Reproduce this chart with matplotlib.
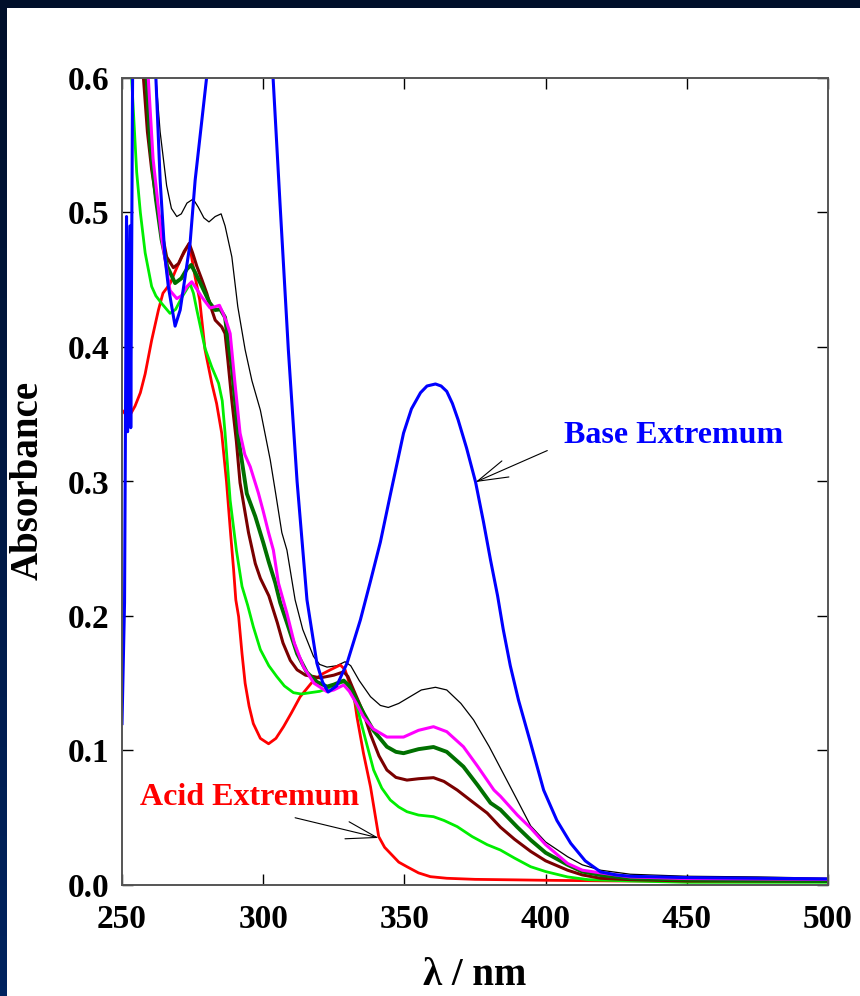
import numpy as np
import matplotlib
matplotlib.use('Agg')
import matplotlib.pyplot as plt
from matplotlib.patches import Rectangle

plt.rcParams['font.family'] = ['Liberation Serif', 'DejaVu Serif']
plt.rcParams['font.weight'] = 'bold'
plt.rcParams['lines.solid_joinstyle'] = 'round'

# --- spectra (wavelength nm, absorbance) ---
black_wl = [250, 256, 260, 262, 263.5, 265.8, 267.5, 269.4, 271, 273, 275.2, 277, 279, 280.8, 283, 285.1,
            286.5, 288.9, 291, 293.6, 296, 299, 302.5, 304.5, 306.6, 308.4, 311.3, 314, 317.8, 320, 322.6,
            326, 329, 331, 334, 338, 341.5, 344.3, 348, 352, 356, 361, 365, 370, 374.5, 380, 385, 390,
            394.7, 400, 407.8, 413, 419.5, 430, 450, 475, 500]
black_abs = [1.5, 0.9, 0.68, 0.6, 0.56, 0.52, 0.503, 0.497, 0.499, 0.507, 0.51, 0.504, 0.496, 0.493, 0.497, 0.499,
             0.49, 0.467, 0.43, 0.398, 0.375, 0.353, 0.316, 0.29, 0.262, 0.249, 0.212, 0.19, 0.17, 0.164, 0.162,
             0.163, 0.166, 0.163, 0.152, 0.14, 0.1335, 0.132, 0.135, 0.14, 0.145, 0.147, 0.145, 0.135, 0.1227, 0.103, 0.083, 0.063,
             0.044, 0.032, 0.021, 0.015, 0.011, 0.008, 0.0065, 0.006, 0.005]

red_wl = [250, 251.7, 253, 254.6, 256.5, 258.2, 260.5, 262.9, 264.5, 267, 269, 271.2, 273.8, 275.9, 277.5,
          279.4, 281.8, 283.5, 285.3, 287, 288.5, 289.5, 290.3, 291.3, 292.5, 293.6, 295, 296.5, 299, 301.9,
          304.5, 307.2, 310, 313.1, 317.8, 321, 323.8, 327.3, 329, 330.5, 332, 333.2, 335.5, 338, 340.9,
          343, 345, 348, 350.9, 355, 359.2, 365, 375, 390, 400, 425, 450, 500]
red_abs = [0.353, 0.349, 0.35, 0.356, 0.366, 0.38, 0.405, 0.4275, 0.44, 0.447, 0.457, 0.467, 0.477, 0.452, 0.435,
           0.398, 0.373, 0.358, 0.336, 0.30, 0.26, 0.235, 0.212, 0.1995, 0.172, 0.15, 0.133, 0.12, 0.109, 0.105,
           0.109, 0.1177, 0.128, 0.14, 0.152, 0.157, 0.16, 0.1636, 0.16, 0.15, 0.1425, 0.125, 0.098, 0.073, 0.036,
           0.028, 0.0236, 0.017, 0.0136, 0.009, 0.0062, 0.005, 0.0042, 0.0038, 0.0035, 0.003, 0.003, 0.003]

lime_wl = [250, 253.4, 255.2, 256.5, 258.2, 260.5, 262, 264, 267, 269, 271.2, 274.1, 275.3, 276.5, 279.4,
           281.8, 284.2, 285.5, 286.5, 288.3, 290.5, 292.5, 294.5, 296.5, 299, 302, 304.8, 307.5, 310.7, 313.5,
           316.7, 320, 322.6, 325.5, 328.5, 330.5, 333.2, 336, 339.1, 342, 345, 348, 350.9, 355, 360.3, 364,
           368.7, 374, 379.3, 384, 389, 394.7, 400, 407.8, 415, 430, 450, 500]
lime_abs = [1.0, 0.6, 0.53, 0.5, 0.47, 0.445, 0.438, 0.4325, 0.425, 0.428, 0.437, 0.447, 0.44, 0.4275, 0.399,
            0.385, 0.373, 0.36, 0.336, 0.286, 0.249, 0.222, 0.208, 0.192, 0.175, 0.163, 0.155, 0.148, 0.143, 0.142,
            0.143, 0.144, 0.146, 0.149, 0.151, 0.147, 0.1326, 0.11, 0.0855, 0.072, 0.0632, 0.058, 0.0545, 0.052, 0.0508, 0.048,
            0.0434, 0.036, 0.030, 0.026, 0.020, 0.0136, 0.010, 0.006, 0.004, 0.003, 0.002, 0.002]

maroon_wl = [250, 255, 257.6, 259, 260.5, 262.8, 265.8, 268.2, 270, 272, 273.8, 275, 276.5, 278.3, 280, 281.8,
             283, 285.3, 286.5, 287.5, 288.9, 290.5, 291.8, 293.5, 294.8, 297.2, 299, 302, 305, 307, 309.6, 312,
             315, 317.8, 320, 322.6, 325, 328.5, 330, 332, 335.5, 338, 341, 343.8, 347, 350.9, 355, 360.3, 364,
             368.7, 374, 379.3, 384, 389, 394.7, 400, 407.8, 413, 419.5, 430, 450, 500]
maroon_abs = [1.2, 0.75, 0.6, 0.56, 0.532, 0.5, 0.467, 0.459, 0.462, 0.471, 0.477, 0.47, 0.46, 0.45, 0.44, 0.4275,
              0.42, 0.415, 0.41, 0.39, 0.36, 0.33, 0.299, 0.278, 0.262, 0.239, 0.228, 0.215, 0.195, 0.18, 0.167, 0.16,
              0.156, 0.155, 0.154, 0.155, 0.156, 0.1585, 0.155, 0.145, 0.128, 0.112, 0.096, 0.0855, 0.08, 0.078, 0.079, 0.0798, 0.077,
              0.0706, 0.062, 0.0535, 0.043, 0.034, 0.025, 0.018, 0.011, 0.0075, 0.005, 0.004, 0.003, 0.003]

dkgreen_wl = [250, 255, 258.7, 260, 262, 264, 266, 268.8, 271, 273, 274.5, 276, 278.3, 281, 283, 284.8, 286.5,
              287.5, 288.9, 291.3, 294.2, 297.2, 300.1, 302, 304.3, 306, 308.4, 312, 315.5, 319, 322.6, 325,
              328.5, 330.5, 333, 335.5, 339, 343.8, 347, 349.7, 355, 360.3, 365, 370.9, 376, 380.5, 384, 390,
              394.7, 400, 407.8, 413, 419.5, 430, 450, 500]
dkgreen_abs = [1.2, 0.8, 0.6, 0.55, 0.51, 0.48, 0.46, 0.4475, 0.451, 0.458, 0.461, 0.455, 0.445, 0.433, 0.4275, 0.428, 0.422,
               0.405, 0.385, 0.331, 0.291, 0.274, 0.254, 0.24, 0.2245, 0.21, 0.195, 0.172, 0.158, 0.151, 0.1475, 0.149,
               0.152, 0.148, 0.138, 0.128, 0.115, 0.1028, 0.099, 0.098, 0.101, 0.1026, 0.099, 0.088, 0.074, 0.061, 0.056, 0.043,
               0.0335, 0.024, 0.015, 0.010, 0.0074, 0.005, 0.004, 0.003]

magenta_wl = [250, 255, 259.3, 261, 264, 267, 269.4, 271, 273, 274.7, 276.5, 278.3, 281.2, 283, 284.5, 286,
              287.1, 288.3, 290, 291.8, 293.5, 295.4, 298.3, 300, 301.9, 303.6, 305.4, 308.4, 311, 314.3, 318,
              322.6, 325, 328.5, 330.5, 333, 335.5, 339, 343.8, 349.7, 355, 360.3, 365, 370.9, 376, 381.7, 384,
              390, 394.7, 400, 407.8, 413, 419.5, 430, 450, 500]
magenta_abs = [1.3, 0.85, 0.6, 0.54, 0.482, 0.442, 0.436, 0.438, 0.445, 0.4485, 0.443, 0.437, 0.429, 0.43, 0.431, 0.424,
               0.418, 0.41, 0.373, 0.336, 0.32, 0.311, 0.2914, 0.278, 0.262, 0.249, 0.2245, 0.202, 0.18, 0.162, 0.15,
               0.1437, 0.145, 0.1487, 0.144, 0.135, 0.125, 0.116, 0.110, 0.110, 0.115, 0.1177, 0.114, 0.1028, 0.088, 0.0706, 0.066,
               0.052, 0.0424, 0.030, 0.016, 0.011, 0.009, 0.006, 0.0048, 0.0042]

blue_wl = [250, 250.9, 251.6, 252.0, 252.8, 253.1, 253.8, 256, 259, 262, 263.5, 265.2, 266.4, 268.8, 270.6,
           274.1, 275.9, 278.3, 280, 285, 292, 298, 303.5, 306, 308.9, 312, 315.5, 319, 321, 323, 326, 329.7,
           334.4, 338, 341.5, 345, 349.7, 352.5, 355.7, 358, 361, 363, 365, 367, 369, 372, 375.2, 378, 380.5,
           383, 385, 387.5, 390.4, 394.7, 399.3, 404, 408.9, 414, 419.5, 425, 430, 440, 450, 475, 500]
blue_abs = [0.12, 0.21, 0.497, 0.337, 0.49, 0.34, 0.62, 0.9, 0.9, 0.6, 0.524, 0.467, 0.445, 0.4155, 0.4275,
            0.477, 0.524, 0.569, 0.601, 0.72, 0.80, 0.72, 0.6, 0.505, 0.398, 0.30, 0.212, 0.165, 0.151, 0.1435, 0.148, 0.165,
            0.197, 0.226, 0.255, 0.29, 0.336, 0.354, 0.366, 0.371, 0.3725, 0.371, 0.367, 0.358, 0.346, 0.325, 0.2996, 0.27, 0.2416,
            0.215, 0.19, 0.163, 0.1375, 0.1055, 0.0706, 0.048, 0.031, 0.018, 0.0097, 0.0075, 0.0065, 0.006, 0.0055, 0.005, 0.0045]

x_ticks = [250, 300, 350, 400, 450, 500]
y_ticks = [0.0, 0.1, 0.2, 0.3, 0.4, 0.5, 0.6]

fig = plt.figure(figsize=(8.6, 9.96), dpi=100)
fig.patch.set_facecolor('#000f2a')
# white page with a dark frame at top and left
fig.patches.append(Rectangle((7/860, 0), 1, 1 - 8/996, transform=fig.transFigure,
                             facecolor='white', edgecolor='none', zorder=-10))
bg = fig.add_axes([0, 0, 7/860, 1], zorder=-5)
bg.imshow(np.linspace(0, 1, 100).reshape(-1, 1), aspect='auto',
          cmap=matplotlib.colors.LinearSegmentedColormap.from_list('nv', ['#000f2a', '#00235f']))
bg.axis('off')

ax = fig.add_axes([122/860, 1 - 885/996, 706/860, 807/996])
ax.set_facecolor('none')

ax.plot(black_wl, black_abs, color='black', lw=0.9)
ax.plot(red_wl, red_abs, color='#ff0000', lw=2.0)
ax.plot(lime_wl, lime_abs, color='#00ee00', lw=2.0)
ax.plot(maroon_wl, maroon_abs, color='#7a0000', lw=2.2)
ax.plot(dkgreen_wl, dkgreen_abs, color='#007000', lw=2.8)
ax.plot(magenta_wl, magenta_abs, color='#ff00ff', lw=2.2)
ax.plot(blue_wl, blue_abs, color='#0000ff', lw=2.2)

ax.set_xlim(250, 500)
ax.set_ylim(0, 0.6)
ax.set_xticks(x_ticks)
ax.set_yticks(y_ticks)
ax.set_xticklabels([str(t) for t in x_ticks])
ax.set_yticklabels(['%.1f' % t for t in y_ticks])
ax.tick_params(direction='in', length=8, width=1, top=True, right=True,
               labelsize=24, color='black')
ax.tick_params(axis='x', pad=14)
ax.tick_params(axis='y', pad=9)
for s in ax.spines.values():
    s.set_color('#555555')
    s.set_linewidth(1.4)

fig.text(28/860, 1 - 480/996, 'Absorbance', rotation=90, ha='center', va='center',
         fontsize=28, fontweight='bold')
fig.text(475/860, 1 - 975/996, 'λ / nm', ha='center', va='center',
         fontsize=28, fontweight='bold')

arrow = dict(arrowstyle='->, head_length=2.2, head_width=0.63', lw=0.8, color='black',
             mutation_scale=10, shrinkA=0, shrinkB=0)
ax.text(256.4, 0.0595, 'Acid Extremum', color='#ff0000', fontsize=23, fontweight='bold', va='baseline')
ax.annotate('', xy=(340.9, 0.035), xytext=(311.3, 0.05), arrowprops=arrow)
ax.text(406.4, 0.3286, 'Base Extremum', color='#0000ff', fontsize=23, fontweight='bold', va='baseline')
ax.annotate('', xy=(375.2, 0.2996), xytext=(400.6, 0.323), arrowprops=arrow)

fig.savefig('out.png', dpi=100, facecolor=fig.get_facecolor())
